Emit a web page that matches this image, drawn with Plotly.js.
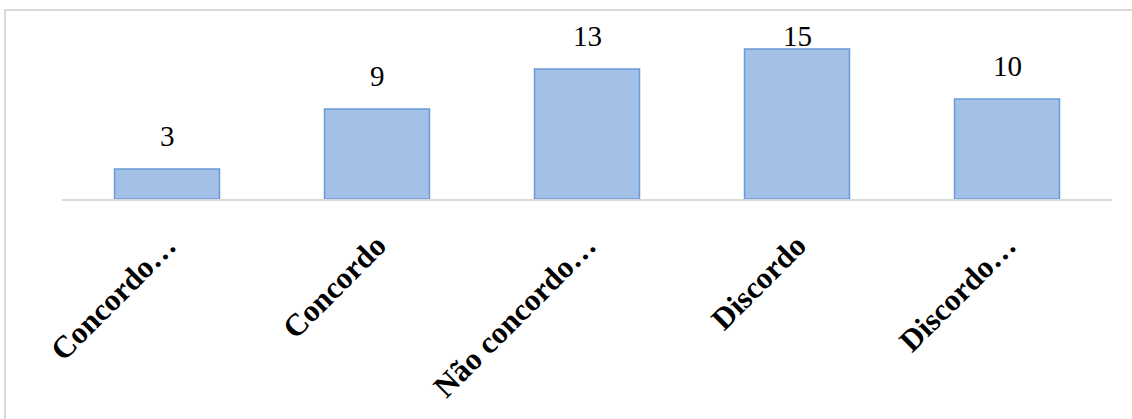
<!DOCTYPE html>
<html>
<head>
<meta charset="utf-8">
<script src="https://cdn.plot.ly/plotly-3.0.1.min.js"></script>
<style>
  html, body { margin: 0; padding: 0; background: #ffffff; }
  #chart { width: 1132px; height: 419px; }
</style>
</head>
<body>
<div id="chart"></div>
<script>
// Response categories and counts
const categories = ["Concordo totalmente", "Concordo", "Não concordo nem discordo", "Discordo", "Discordo totalmente"];
const tickLabels = ["Concordo…", "Concordo", "Não concordo…", "Discordo", "Discordo…"];
const counts = [3, 9, 13, 15, 10];

const yMax = 17;
const labelGap = 1.5;      // value labels sit this far above each bar
const labelCeiling = 14.5; // highest a value label may sit

const serif = "'Liberation Serif', 'Times New Roman', serif";

const trace = {
  type: "bar",
  x: categories,
  y: counts,
  marker: {
    color: "#a3c0e6",
    line: { color: "#6a9bd8", width: 1.5 }
  },
  hoverinfo: "x+y"
};

const annotations = categories.map((c, i) => ({
  x: c,
  y: Math.min(counts[i] + labelGap, labelCeiling),
  xref: "x",
  yref: "y",
  text: String(counts[i]),
  showarrow: false,
  yanchor: "bottom",
  font: { family: serif, size: 29, color: "#000000" }
}));

const layout = {
  width: 1132,
  height: 419,
  margin: { l: 62, r: 20, t: 29, b: 220 },
  paper_bgcolor: "#ffffff",
  plot_bgcolor: "#ffffff",
  bargap: 0.5,
  showlegend: false,
  xaxis: {
    type: "category",
    range: [-0.5, 4.5],
    tickmode: "array",
    tickvals: categories,
    ticktext: tickLabels,
    tickangle: -45,
    ticks: "",
    showgrid: false,
    zeroline: false,
    showline: true,
    linecolor: "#d9d9d9",
    linewidth: 2,
    ticklabelstandoff: 14,
    tickfont: { family: serif, size: 31, color: "#000000", weight: "bold" }
  },
  yaxis: {
    range: [0, yMax],
    visible: false,
    showgrid: false,
    zeroline: false
  },
  annotations: annotations,
  shapes: [{
    type: "rect",
    xref: "paper", yref: "paper",
    x0: -57 / 1050, x1: 1200 / 1050,
    y0: -260 / 170, y1: 1 + 19 / 170,
    line: { color: "#d9d9d9", width: 2 },
    fillcolor: "rgba(0,0,0,0)",
    layer: "below"
  }]
};

Plotly.newPlot("chart", [trace], layout, { displayModeBar: false, staticPlot: true });
</script>
</body>
</html>
